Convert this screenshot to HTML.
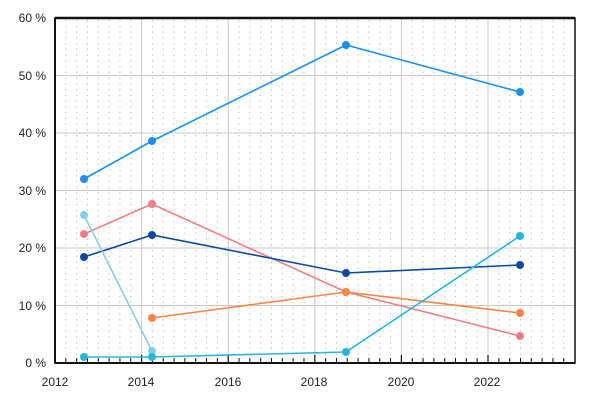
<!DOCTYPE html>
<html><head><meta charset="utf-8"><style>
html,body{margin:0;padding:0;background:#fff;width:600px;height:400px;overflow:hidden}
text{font-family:"Liberation Sans",sans-serif;font-size:12px;fill:#222}
</style></head><body>
<svg id="s" width="600" height="400" xmlns="http://www.w3.org/2000/svg">
<g id="grid"></g>
<g font-family="Liberation Sans">
<text x="46" y="22" text-anchor="end">60 %</text>
<text x="46" y="80" text-anchor="end">50 %</text>
<text x="46" y="137" text-anchor="end">40 %</text>
<text x="46" y="195" text-anchor="end">30 %</text>
<text x="46" y="252" text-anchor="end">20 %</text>
<text x="46" y="310" text-anchor="end">10 %</text>
<text x="46" y="367" text-anchor="end">0 %</text>
<text x="55" y="386" text-anchor="middle">2012</text>
<text x="141" y="386" text-anchor="middle">2014</text>
<text x="228" y="386" text-anchor="middle">2016</text>
<text x="314" y="386" text-anchor="middle">2018</text>
<text x="401" y="386" text-anchor="middle">2020</text>
<text x="487" y="386" text-anchor="middle">2022</text>
</g>
<g fill="none" stroke-width="1.6">
<polyline stroke="#1e8ff0" points="84,179 152,141 346,45 520,92"/>
<polyline stroke="#ee7f86" points="84,234 152,204 346,292 520,336"/>
<polyline stroke="#0d4a9c" points="84,257 152,235 346,273 520,265"/>
<polyline stroke="#fb8547" points="152,318 346,292 520,313"/>
<polyline stroke="#28b5dc" points="84,357 152,357 346,352 520,236"/>
<polyline stroke="#86cde3" points="84,215 152,351"/>
</g>
<g>
<g fill="#1e8ff0"><circle cx="84" cy="179" r="4"/><circle cx="152" cy="141" r="4"/><circle cx="346" cy="45" r="4"/><circle cx="520" cy="92" r="4"/></g>
<g fill="#ee7f86"><circle cx="84" cy="234" r="4"/><circle cx="152" cy="204" r="4"/><circle cx="346" cy="292" r="4"/><circle cx="520" cy="336" r="4"/></g>
<g fill="#0d4a9c"><circle cx="84" cy="257" r="4"/><circle cx="152" cy="235" r="4"/><circle cx="346" cy="273" r="4"/><circle cx="520" cy="265" r="4"/></g>
<g fill="#fb8547"><circle cx="152" cy="318" r="4"/><circle cx="346" cy="292" r="4"/><circle cx="520" cy="313" r="4"/></g>
<g fill="#86cde3"><circle cx="84" cy="215" r="4"/><circle cx="152" cy="351" r="4"/></g>
<g fill="#28b5dc"><circle cx="84" cy="357" r="4"/><circle cx="152" cy="357" r="4"/><circle cx="346" cy="352" r="4"/><circle cx="520" cy="236" r="4"/></g>
</g>
<rect x="55" y="18" width="520" height="345" fill="none" stroke="#111" stroke-width="1.5"/>
<line x1="55" y1="18" x2="575" y2="18" stroke="#111" stroke-width="2.5"/>
<line x1="55" y1="363" x2="575" y2="363" stroke="#111" stroke-width="2"/>
<line x1="55" y1="18" x2="55" y2="363" stroke="#111" stroke-width="2"/>
</svg>
<script>
var g=document.getElementById('grid'),ns='http://www.w3.org/2000/svg',h='';
var px=43.3/4;
for(var i=1;i<48;i++){var x=55+i*px;
 if(i%8==0){h+='<line x1="'+x+'" y1="18" x2="'+x+'" y2="363" stroke="#c8c8c8" stroke-width="1"/>';
   h+='<line x1="'+x+'" y1="363" x2="'+x+'" y2="355" stroke="#111" stroke-width="1.2"/>';}
 else{h+='<line x1="'+x+'" y1="20" x2="'+x+'" y2="363" stroke="#bbb" stroke-width="1" stroke-dasharray="1.2,4.55"/>';
   h+='<line x1="'+x+'" y1="363" x2="'+x+'" y2="358" stroke="#111" stroke-width="1"/>';}
}
for(var k=1;k<6;k++){var y=363-k*57.5;h+='<line x1="55" y1="'+y+'" x2="575" y2="'+y+'" stroke="#c8c8c8" stroke-width="1"/>';}
g.innerHTML=h;
</script>
</body></html>
